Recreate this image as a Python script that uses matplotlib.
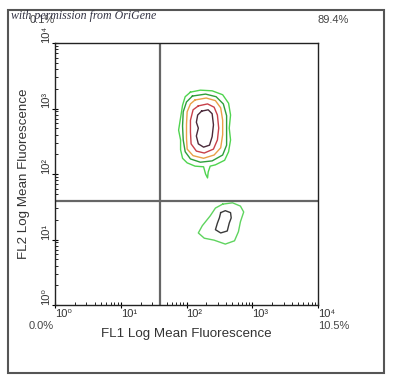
import matplotlib
matplotlib.use("Agg")
import matplotlib.pyplot as plt
from matplotlib.patches import Rectangle

plt.rcParams['font.family'] = ['Liberation Sans', 'DejaVu Sans']

# quadrant gates (FL1, FL2)
gate_x = 40
gate_y = 39

# quadrant percentages: upper-left, upper-right, lower-left, lower-right
quad_pct = ["0.1%", "89.4%", "0.0%", "10.5%"]

tick_vals = [1, 10, 100, 1000, 10000]
tick_labels = ["10⁰", "10¹", "10²", "10³", "10⁴"]

# contour outlines, in log10 units
# upper population (outer to inner)
up_green1_x = [2.06, 2.21, 2.39, 2.55, 2.64, 2.67, 2.65, 2.67, 2.64, 2.58, 2.44, 2.36, 2.33, 2.32, 2.29, 2.26, 2.13, 2.01, 1.94, 1.91, 1.91, 1.88, 1.91, 1.94, 1.98, 2.06]
up_green1_y = [3.25, 3.28, 3.27, 3.21, 3.08, 2.90, 2.70, 2.52, 2.34, 2.21, 2.14, 2.12, 2.03, 1.94, 2.00, 2.11, 2.12, 2.17, 2.24, 2.37, 2.52, 2.67, 2.86, 3.05, 3.18, 3.25]
up_green2_x = [2.09, 2.29, 2.45, 2.56, 2.61, 2.61, 2.61, 2.55, 2.39, 2.21, 2.06, 1.98, 1.95, 1.94, 1.95, 2.00, 2.09]
up_green2_y = [3.19, 3.22, 3.18, 3.07, 2.89, 2.67, 2.44, 2.29, 2.20, 2.18, 2.23, 2.34, 2.52, 2.73, 2.95, 3.10, 3.19]
up_orange_x = [2.13, 2.30, 2.44, 2.52, 2.55, 2.55, 2.52, 2.42, 2.26, 2.10, 2.01, 2.00, 2.00, 2.01, 2.06, 2.13]
up_orange_y = [3.13, 3.16, 3.12, 3.01, 2.82, 2.60, 2.40, 2.29, 2.24, 2.28, 2.38, 2.55, 2.76, 2.95, 3.07, 3.13]
up_red_x = [2.18, 2.32, 2.42, 2.47, 2.49, 2.47, 2.41, 2.27, 2.15, 2.07, 2.06, 2.06, 2.10, 2.18]
up_red_y = [3.04, 3.07, 3.02, 2.90, 2.70, 2.52, 2.38, 2.32, 2.35, 2.46, 2.64, 2.82, 2.98, 3.04]
up_dark_x = [2.23, 2.33, 2.39, 2.41, 2.39, 2.35, 2.26, 2.18, 2.15, 2.18, 2.15, 2.17, 2.23]
up_dark_y = [2.96, 2.98, 2.92, 2.75, 2.57, 2.44, 2.41, 2.46, 2.58, 2.70, 2.79, 2.90, 2.96]

# lower population
lo_green_x = [2.55, 2.70, 2.82, 2.87, 2.82, 2.79, 2.73, 2.59, 2.42, 2.27, 2.18, 2.24, 2.36, 2.44, 2.55]
lo_green_y = [1.54, 1.56, 1.51, 1.42, 1.27, 1.12, 0.98, 0.93, 0.99, 1.02, 1.10, 1.21, 1.36, 1.48, 1.54]
lo_dark_x = [2.52, 2.59, 2.67, 2.68, 2.65, 2.62, 2.52, 2.44, 2.47, 2.50, 2.52]
lo_dark_y = [1.41, 1.44, 1.41, 1.33, 1.25, 1.13, 1.10, 1.15, 1.25, 1.33, 1.41]

contours = [
    (up_green1_x, up_green1_y, "#4fd44f"),
    (up_green2_x, up_green2_y, "#2e9e3a"),
    (up_orange_x, up_orange_y, "#e8a048"),
    (up_red_x, up_red_y, "#c8404a"),
    (up_dark_x, up_dark_y, "#4a2a3a"),
    (lo_green_x, lo_green_y, "#5fd45f"),
    (lo_dark_x, lo_dark_y, "#3a3a3a"),
]

fig = plt.figure(figsize=(3.94, 3.84), dpi=100)
fig.patch.set_facecolor("white")

# outer frame
fig.patches.append(Rectangle((8 / 394, 1 - 373 / 384), 376 / 394, 363 / 384,
                             transform=fig.transFigure, fill=False,
                             edgecolor="#555555", linewidth=1.5))

ax = fig.add_axes([55 / 394, 79 / 384, 263 / 394, 262 / 384])
ax.set_xscale("log")
ax.set_yscale("log")
ax.set_xlim(1, 10000)
ax.set_ylim(1, 10000)

for xs, ys, col in contours:
    ax.plot([10 ** v for v in xs], [10 ** v for v in ys], color=col, linewidth=1.0)

ax.axvline(gate_x, color="#666666", linewidth=1.6)
ax.axhline(gate_y, color="#666666", linewidth=1.6)

for sp in ax.spines.values():
    sp.set_color("#222222")
    sp.set_linewidth(1.0)

ax.set_xticks(tick_vals)
ax.set_xticklabels(tick_labels, fontsize=8, color="#333333", ha="left")
ax.set_yticks(tick_vals)
ax.set_yticklabels(tick_labels, fontsize=8, color="#333333", rotation=90, va="bottom")
ax.tick_params(which="major", direction="inout", length=4, width=0.8, pad=1)
ax.tick_params(which="minor", direction="in", length=2, width=0.6)

ax.set_xlabel("FL1 Log Mean Fluorescence", fontsize=9.6, color="#333333", labelpad=6)
ax.set_ylabel("FL2 Log Mean Fluorescence", fontsize=9.6, color="#333333", labelpad=8)

# quadrant percentages
fig.text(42 / 394, 1 - 20 / 384, quad_pct[0], fontsize=8, color="#444444", ha="center", va="center")
fig.text(333 / 394, 1 - 20 / 384, quad_pct[1], fontsize=8, color="#444444", ha="center", va="center")
fig.text(41 / 394, 1 - 326 / 384, quad_pct[2], fontsize=8, color="#444444", ha="center", va="center")
fig.text(334 / 394, 1 - 326 / 384, quad_pct[3], fontsize=8, color="#444444", ha="center", va="center")

fig.text(11 / 394, 1 - 16 / 384, "with permission from OriGene", fontsize=8.6,
         family="Liberation Serif", style="italic", color="#333344", ha="left", va="center")

fig.savefig("out.png", dpi=100, facecolor="white")
